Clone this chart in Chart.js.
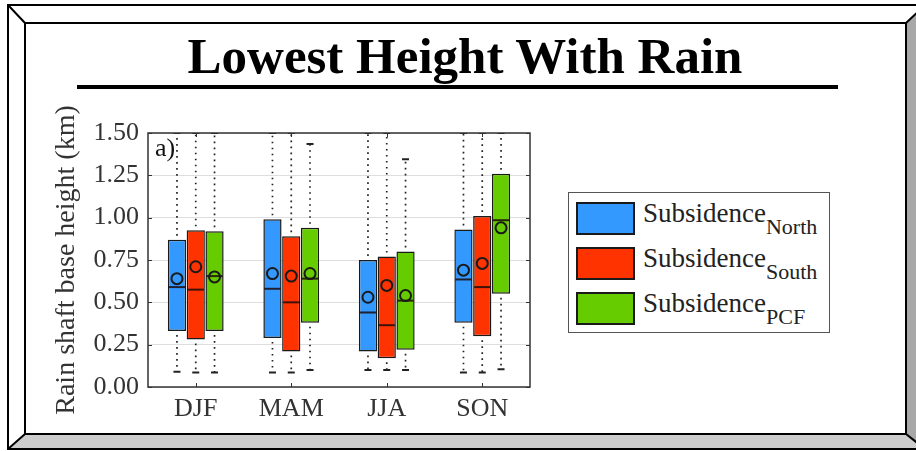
<!DOCTYPE html>
<html>
<head>
<meta charset="utf-8">
<script src="https://cdn.jsdelivr.net/npm/chart.js@4/dist/chart.umd.min.js"></script>
<style>
  body { margin: 0; background: #fff; }
  #wrap { position: relative; width: 916px; height: 451px; overflow: hidden; font-family: 'Liberation Serif', 'Times New Roman', serif; }
  #chart { position: absolute; left: 0; top: 0; }
  #title { position: absolute; left: 0; top: 31px; width: 930px; text-align: center; font-weight: bold; font-size: 51px; line-height: 51px; color: #000; }
  #rule { position: absolute; left: 77px; top: 85px; width: 761px; height: 4px; background: #000; }
  #panel { position: absolute; left: 155px; top: 135px; font-size: 26px; line-height: 26px; color: #111; }
  #legend { position: absolute; left: 568px; top: 192px; width: 262px; height: 141px; border: 1.5px solid #555; box-sizing: border-box; background: #fff; }
  .sw { position: absolute; left: 7px; width: 59px; height: 33px; border: 2px solid #1a1a1a; box-sizing: border-box; }
  .lt { position: absolute; left: 74px; font-size: 27px; line-height: 27px; color: #222; white-space: nowrap; }
  .lt span { font-size: 22px; position: relative; top: 12px; }
</style>
</head>
<body>
<div id="wrap">
  <canvas id="chart" width="916" height="451"></canvas>
  <div id="title">Lowest Height With Rain</div>
  <div id="rule"></div>
  <div id="panel">a)</div>
  <div id="legend"></div>
</div>
<script>
// seasons and y ticks
const seasons = ['DJF', 'MAM', 'JJA', 'SON'];
const yTickLabels = ['0.00', '0.25', '0.50', '0.75', '1.00', '1.25', '1.50'];

// Subsidence North
const northMin = [0.09, 0.085, 0.10, 0.085];
const northQ1 = [0.33, 0.29, 0.21, 0.38];
const northMed = [0.59, 0.58, 0.44, 0.635];
const northQ3 = [0.87, 0.99, 0.75, 0.93];
const northMax = [1.5, 1.5, 1.5, 1.5];
const northMean = [0.64, 0.67, 0.53, 0.69];

// Subsidence South
const southMin = [0.085, 0.085, 0.10, 0.085];
const southQ1 = [0.28, 0.21, 0.17, 0.30];
const southMed = [0.575, 0.50, 0.365, 0.59];
const southQ3 = [0.925, 0.89, 0.77, 1.01];
const southMax = [1.5, 1.5, 1.5, 1.5];
const southMean = [0.71, 0.655, 0.60, 0.73];

// Subsidence PCF
const pcfMin = [0.085, 0.10, 0.10, 0.105];
const pcfQ1 = [0.33, 0.38, 0.22, 0.55];
const pcfMed = [0.655, 0.64, 0.51, 0.985];
const pcfQ3 = [0.92, 0.94, 0.80, 1.26];
const pcfMax = [1.5, 1.435, 1.345, 1.5];
const pcfMean = [0.65, 0.67, 0.54, 0.94];

const seriesNames = ['North', 'South', 'PCF'];
const seriesColors = ['#3399ff', '#ff3300', '#66cc00'];

const stats = [
  { min: northMin, med: northMed, max: northMax, mean: northMean },
  { min: southMin, med: southMed, max: southMax, mean: southMean },
  { min: pcfMin, med: pcfMed, max: pcfMax, mean: pcfMean },
];
const q1s = [northQ1, southQ1, pcfQ1];
const q3s = [northQ3, southQ3, pcfQ3];

const serif = "'Liberation Serif', 'Times New Roman', serif";

// legend (html, for the subscripts)
const legendEl = document.getElementById('legend');
seriesNames.forEach((name, i) => {
  const sw = document.createElement('div');
  sw.className = 'sw';
  sw.style.top = (8.5 + i * 45) + 'px';
  sw.style.background = seriesColors[i];
  legendEl.appendChild(sw);
  const t = document.createElement('div');
  t.className = 'lt';
  t.style.top = (6.5 + i * 45) + 'px';
  t.innerHTML = 'Subsidence<span>' + name + '</span>';
  legendEl.appendChild(t);
});

// bevelled frame behind everything
const framePlugin = {
  id: 'frame',
  beforeDraw(chart) {
    const { ctx } = chart;
    const o = { l: 8, t: 5, r: 925, b: 449 };
    const n = { l: 25, t: 23, r: 906, b: 434 };
    ctx.save();
    ctx.fillStyle = '#a8a8a8';
    ctx.beginPath();
    ctx.moveTo(o.r, o.t); ctx.lineTo(o.r, o.b); ctx.lineTo(n.r, n.b); ctx.lineTo(n.r, n.t);
    ctx.closePath(); ctx.fill();
    ctx.fillStyle = '#cccccc';
    ctx.beginPath();
    ctx.moveTo(o.l, o.b); ctx.lineTo(o.r, o.b); ctx.lineTo(n.r, n.b); ctx.lineTo(n.l, n.b);
    ctx.closePath(); ctx.fill();
    ctx.strokeStyle = '#000';
    ctx.lineWidth = 2;
    ctx.strokeRect(o.l, o.t, o.r - o.l, o.b - o.t);
    ctx.strokeRect(n.l, n.t, n.r - n.l, n.b - n.t);
    ctx.beginPath();
    ctx.moveTo(o.l, o.t); ctx.lineTo(n.l, n.t);
    ctx.moveTo(o.r, o.t); ctx.lineTo(n.r, n.t);
    ctx.moveTo(o.l, o.b); ctx.lineTo(n.l, n.b);
    ctx.moveTo(o.r, o.b); ctx.lineTo(n.r, n.b);
    ctx.stroke();
    ctx.restore();
  },
};

// whiskers, medians, means, plot border and inner ticks
const boxPlugin = {
  id: 'boxExtras',
  afterDatasetsDraw(chart) {
    const { ctx, chartArea: a } = chart;
    const y = chart.scales.y;
    const x = chart.scales.x;
    ctx.save();
    ctx.beginPath();
    ctx.rect(a.left, a.top, a.right - a.left, a.bottom - a.top);
    ctx.clip();
    stats.forEach((s, i) => {
      const meta = chart.getDatasetMeta(i);
      meta.data.forEach((bar, j) => {
        const cx = bar.x;
        const yq1 = y.getPixelForValue(q1s[i][j]);
        const yq3 = y.getPixelForValue(q3s[i][j]);
        const yMin = y.getPixelForValue(s.min[j]);
        const yMax = y.getPixelForValue(s.max[j]);
        // dotted whiskers
        ctx.strokeStyle = '#222';
        ctx.lineWidth = 1.7;
        ctx.setLineDash([1.7, 4.3]);
        ctx.beginPath();
        ctx.moveTo(cx, yq1 + 4); ctx.lineTo(cx, yMin);
        ctx.moveTo(cx, yq3 - 4); ctx.lineTo(cx, yMax);
        ctx.stroke();
        ctx.setLineDash([]);
        // caps
        ctx.lineWidth = 2;
        ctx.beginPath();
        ctx.moveTo(cx - 3.5, yMin); ctx.lineTo(cx + 3.5, yMin);
        ctx.moveTo(cx - 3.5, yMax); ctx.lineTo(cx + 3.5, yMax);
        ctx.stroke();
        // median
        const yMed = y.getPixelForValue(s.med[j]);
        ctx.strokeStyle = 'rgba(30,10,10,0.85)';
        ctx.lineWidth = 2;
        ctx.beginPath();
        ctx.moveTo(bar.x - bar.width / 2 + 1, yMed);
        ctx.lineTo(bar.x + bar.width / 2 - 1, yMed);
        ctx.stroke();
        // mean
        const yMean = y.getPixelForValue(s.mean[j]);
        ctx.strokeStyle = '#1a1a1a';
        ctx.lineWidth = 2;
        ctx.beginPath();
        ctx.arc(cx, yMean, 5.5, 0, Math.PI * 2);
        ctx.stroke();
      });
    });
    ctx.restore();

    // plot frame
    ctx.save();
    ctx.strokeStyle = '#333';
    ctx.lineWidth = 1.5;
    ctx.strokeRect(a.left, a.top, a.right - a.left, a.bottom - a.top);
    ctx.lineWidth = 1;
    ctx.beginPath();
    seasons.forEach((_, j) => {
      const px = Math.round(x.getPixelForValue(j)) + 0.5;
      ctx.moveTo(px, a.bottom); ctx.lineTo(px, a.bottom - 4);
      ctx.moveTo(px, a.top); ctx.lineTo(px, a.top + 4);
    });
    y.ticks.forEach(t => {
      const py = Math.round(y.getPixelForValue(t.value)) + 0.5;
      ctx.moveTo(a.left, py); ctx.lineTo(a.left + 4, py);
      ctx.moveTo(a.right, py); ctx.lineTo(a.right - 4, py);
    });
    ctx.stroke();
    ctx.restore();
  },
};

new Chart(document.getElementById('chart'), {
  type: 'bar',
  data: {
    labels: seasons,
    datasets: seriesNames.map((name, i) => ({
      label: 'Subsidence ' + name,
      data: q1s[i].map((q1, j) => [q1, q3s[i][j]]),
      backgroundColor: seriesColors[i],
      borderColor: '#1a1a1a',
      borderWidth: 1.5,
      borderSkipped: false,
      categoryPercentage: 0.59,
      barPercentage: 0.97,
    })),
  },
  options: {
    responsive: false,
    animation: false,
    layout: { padding: { left: 50, top: 133, right: 386, bottom: 0 } },
    plugins: { legend: { display: false }, tooltip: { enabled: false } },
    scales: {
      x: {
        grid: { display: false, drawTicks: false },
        border: { display: false },
        ticks: { color: '#333', padding: 7, font: { family: serif, size: 26 } },
        afterFit(s) { s.height = 64; },
      },
      y: {
        min: 0,
        max: 1.5,
        grid: { color: '#dedede', lineWidth: 1, drawTicks: false },
        border: { display: false },
        ticks: {
          stepSize: 0.25,
          color: '#333',
          padding: 9,
          font: { family: serif, size: 26 },
          callback: (v, i) => yTickLabels[i],
        },
        title: {
          display: true,
          text: 'Rain shaft base height (km)',
          color: '#333',
          padding: { top: 0, bottom: 0 },
          font: { family: serif, size: 28 },
        },
        afterFit(s) { s.width = 98; },
      },
    },
  },
  plugins: [framePlugin, boxPlugin],
});
</script>
</body>
</html>
